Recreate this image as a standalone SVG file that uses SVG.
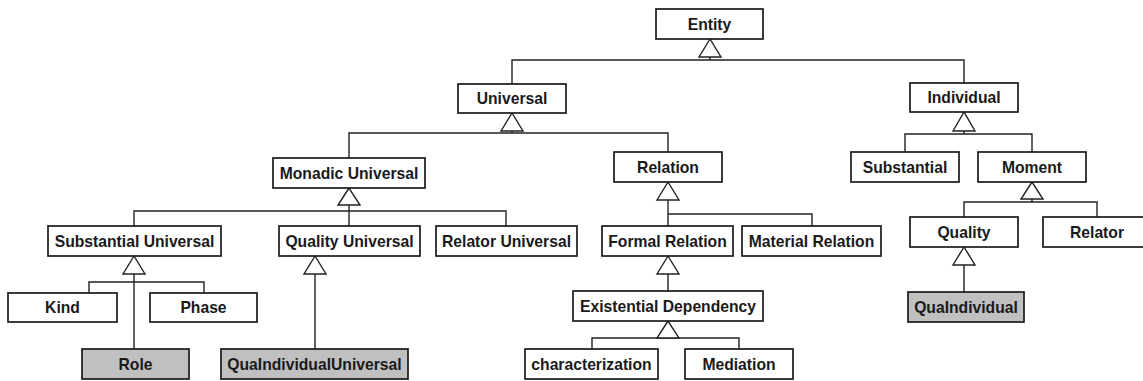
<svg xmlns="http://www.w3.org/2000/svg" width="1143" height="381" viewBox="0 0 1143 381">
<style>
.box{fill:#fff;stroke:#1a1a1a;stroke-width:1.7}
.sel{fill:#c0c0c0;stroke:#1a1a1a;stroke-width:1.7}
.lbl{font-family:"Liberation Sans",Arial,sans-serif;font-weight:bold;font-size:15.7px;fill:#1a1a1a;text-anchor:middle}
.ln{fill:none;stroke:#222;stroke-width:1.4}
.tri{fill:#fff;stroke:#222;stroke-width:1.4;stroke-linejoin:miter}
</style>
<rect width="1143" height="381" fill="#fff"/>
<g id="connectors">
<polyline class="ln" points="512,84 512,60 964,60 964,83"/>
<line class="ln" x1="710" y1="57" x2="710" y2="60"/>
<polygon class="tri" points="710,39 699,57 721,57"/>

<polyline class="ln" points="349,158 349,133 668,133 668,152"/>
<line class="ln" x1="512" y1="131" x2="512" y2="133"/>
<polygon class="tri" points="512,113 501,131 523,131"/>

<polyline class="ln" points="134,226 134,211 506,211 506,226"/>
<line class="ln" x1="349" y1="205" x2="349" y2="226"/>
<polygon class="tri" points="349,188 338,205 360,205"/>

<line class="ln" x1="668" y1="200" x2="668" y2="226"/>
<polyline class="ln" points="668,214 812,214 812,226"/>
<polygon class="tri" points="668,182 657,200 679,200"/>

<line class="ln" x1="134" y1="274" x2="134" y2="349"/>
<polyline class="ln" points="89,293 89,282 204,282 204,293"/>
<polygon class="tri" points="134,256 123,274 145,274"/>

<line class="ln" x1="315" y1="274" x2="315" y2="349"/>
<polygon class="tri" points="315,256 304,274 326,274"/>

<line class="ln" x1="668" y1="274" x2="668" y2="291"/>
<polygon class="tri" points="668,256 657,274 679,274"/>

<polyline class="ln" points="592,349 592,338 739,338 739,349"/>
<polygon class="tri" points="668,321 657,338 679,338"/>

<polyline class="ln" points="905,152 905,134 1032,134 1032,152"/>
<line class="ln" x1="964" y1="131" x2="964" y2="134"/>
<polygon class="tri" points="964,112 953,131 975,131"/>

<polyline class="ln" points="964,217 964,202 1097,202 1097,217"/>
<line class="ln" x1="1032" y1="199" x2="1032" y2="202"/>
<polygon class="tri" points="1032,182 1021,199 1043,199"/>

<line class="ln" x1="964" y1="265" x2="964" y2="292"/>
<polygon class="tri" points="964,247 953,265 975,265"/>
</g>

<g id="entity"><rect class="box" x="656" y="9" width="107" height="30"/><text class="lbl" x="709.5" y="29.5">Entity</text></g>
<g id="universal"><rect class="box" x="458" y="84" width="108" height="29"/><text class="lbl" x="512" y="104">Universal</text></g>
<g id="individual"><rect class="box" x="910" y="83" width="108" height="29"/><text class="lbl" x="964" y="103">Individual</text></g>
<g id="monadic-universal"><rect class="box" x="273" y="158" width="152" height="30"/><text class="lbl" x="349" y="178.5">Monadic Universal</text></g>
<g id="relation"><rect class="box" x="614" y="152" width="108" height="30"/><text class="lbl" x="668" y="172.5">Relation</text></g>
<g id="substantial"><rect class="box" x="851" y="152" width="108" height="30"/><text class="lbl" x="905" y="172.5">Substantial</text></g>
<g id="moment"><rect class="box" x="978" y="152" width="108" height="30"/><text class="lbl" x="1032" y="172.5">Moment</text></g>
<g id="substantial-universal"><rect class="box" x="48" y="226" width="173" height="30"/><text class="lbl" x="134.5" y="246.5">Substantial Universal</text></g>
<g id="quality-universal"><rect class="box" x="279" y="226" width="141" height="30"/><text class="lbl" x="349.5" y="246.5">Quality Universal</text></g>
<g id="relator-universal"><rect class="box" x="436" y="226" width="141" height="30"/><text class="lbl" x="506.5" y="246.5">Relator Universal</text></g>
<g id="formal-relation"><rect class="box" x="602" y="226" width="131" height="30"/><text class="lbl" x="667.5" y="246.5">Formal Relation</text></g>
<g id="material-relation"><rect class="box" x="742" y="226" width="139" height="30"/><text class="lbl" x="811.5" y="246.5">Material Relation</text></g>
<g id="quality"><rect class="box" x="910" y="217" width="108" height="30"/><text class="lbl" x="964" y="237.5">Quality</text></g>
<g id="relator"><rect class="box" x="1043" y="217" width="108" height="30"/><text class="lbl" x="1097" y="237.5">Relator</text></g>
<g id="kind"><rect class="box" x="8" y="293" width="109" height="29"/><text class="lbl" x="62.5" y="313">Kind</text></g>
<g id="phase"><rect class="box" x="150" y="293" width="107" height="29"/><text class="lbl" x="203.5" y="313">Phase</text></g>
<g id="existential-dependency"><rect class="box" x="573" y="291" width="190" height="30"/><text class="lbl" x="668" y="311.5">Existential Dependency</text></g>
<g id="quaindividual"><rect class="sel" x="908" y="292" width="116" height="30"/><text class="lbl" x="966" y="312.5">QuaIndividual</text></g>
<g id="role"><rect class="sel" x="82" y="349" width="107" height="30"/><text class="lbl" x="135.5" y="369.5">Role</text></g>
<g id="quaindividualuniversal"><rect class="sel" x="221" y="349" width="187" height="30"/><text class="lbl" x="314.5" y="369.5">QuaIndividualUniversal</text></g>
<g id="characterization"><rect class="box" x="525" y="349" width="133" height="30"/><text class="lbl" x="591.5" y="369.5">characterization</text></g>
<g id="mediation"><rect class="box" x="685" y="349" width="108" height="30"/><text class="lbl" x="739" y="369.5">Mediation</text></g>
</svg>
